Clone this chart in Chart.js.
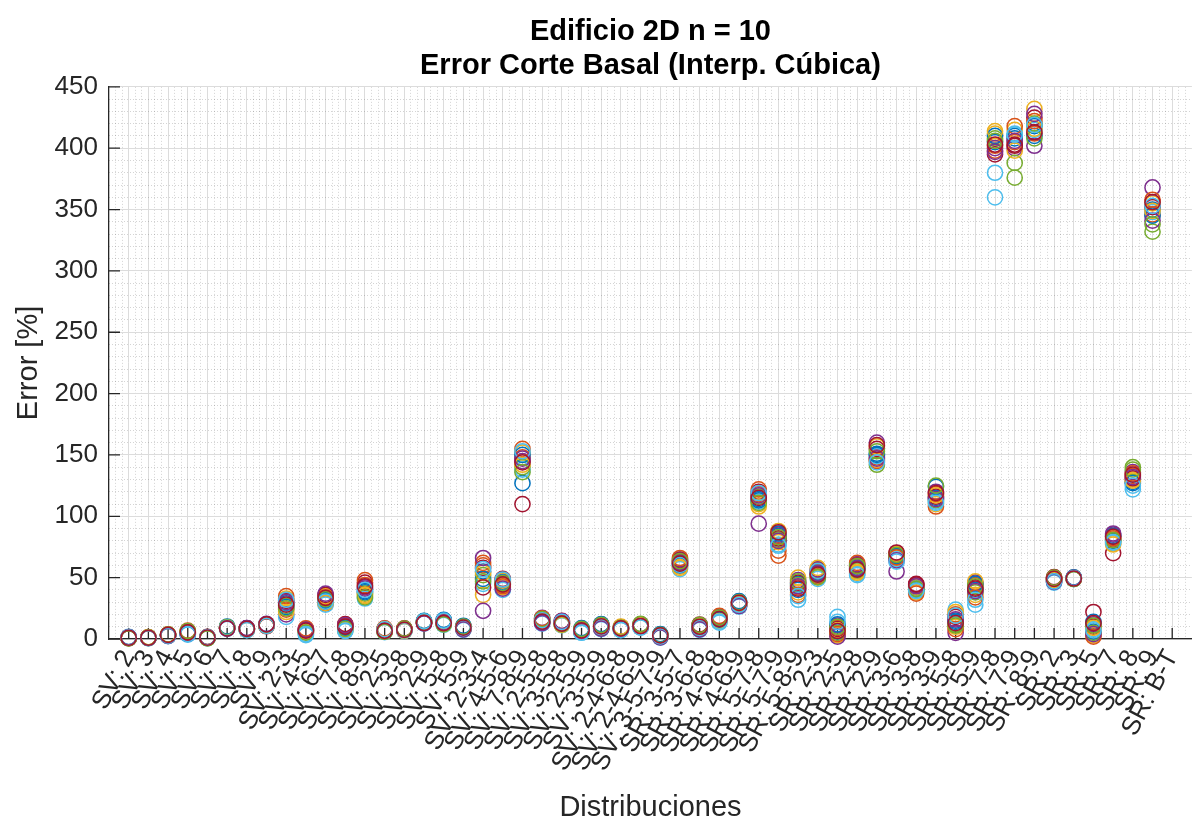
<!DOCTYPE html>
<html>
<head>
<meta charset="utf-8">
<title>Error Corte Basal</title>
<script src="https://cdn.jsdelivr.net/npm/chart.js@4.4.1/dist/chart.umd.min.js"></script>
<style>
html,body{margin:0;padding:0;background:#fff;}
#wrap{width:1201px;height:825px;}
</style>
</head>
<body>
<div id="wrap"><canvas id="errorChart" width="1201" height="825"></canvas></div>
<script>
// distribuciones de sensores (eje x)
const categories=["SV: 2","SV: 3","SV: 4","SV: 5","SV: 6","SV: 7","SV: 8","SV: 9",
"SV: 2-3","SV: 4-5","SV: 6-7","SV: 7-8","SV: 8-9","SV: 2-5","SV: 3-8","SV: 2-9","SV: 5-8","SV: 5-9",
"SV: 2-3-4","SV: 4-5-6","SV: 7-8-9","SV: 2-5-8","SV: 3-5-8","SV: 2-5-9","SV: 3-5-9",
"SV: 2-4-6-8","SV: 2-4-6-9","SV: 3-5-7-9",
"SR: 3-5-7","SR: 3-6-8","SR: 4-6-8","SR: 4-6-9","SR: 5-7-8","SR: 5-7-9","SR: 5-8-9",
"SR: 2-3","SR: 2-5","SR: 2-8","SR: 2-9","SR: 3-6","SR: 3-8","SR: 3-9","SR: 5-8","SR: 5-9",
"SR: 7-8","SR: 7-9","SR: 8-9","SR: 2","SR: 3","SR: 5","SR: 7","SR: 8","SR: 9","SR: B-T"];

// error [%] de cada simulacion, una entrada por distribucion
const sim1=[1.2,0.9,3.1,4.8,1.1,9.2,7.9,11.2,29,6.5,32,9.5,38,7.2,7.6,13.6,13.8,9.0,55,47,127,15,13,6.8,10,8.5,10.5,2.4,61,9.5,16.5,28.5,114,84,45,53,6,57,151,67,42,115,15,40,405,410,418,48,49.5,6,80,128,350,null];
const sim2=[0.8,1.2,2.6,5.6,0.7,8.6,8.4,10.6,24,7.8,29,11.8,44,8.1,8.2,14.2,14.6,9.8,60,44,148,16.5,14.2,7.9,11.2,9.2,11.4,3.1,63,11.2,17.8,29.6,118,68,42,55,9,59,148,69,43.5,118,20,44,398,405,412,50,49,10,83,133,346,null];
const sim3=[1.5,0.7,3.5,6.2,1.6,9.8,7.5,11.8,33,5.4,35,7.2,35,6.5,6.9,12.9,12.4,8.1,36,42,152,13.2,11.8,5.6,8.6,7.6,9.6,1.6,59,8.2,15.2,27.2,110,79,38,50,3,55,146,66,38,110,10,36,412,415,432,47,50,3,78,130,355,null];
const sim4=[0.6,1.4,2.9,4.1,0.9,8.9,8.8,10.9,20,8.2,30,10.4,41,7.8,7.9,13.9,15.2,10.4,23,48,145,17.2,13.6,8.5,11.8,9.8,12.0,3.6,65,10.6,18.4,30.4,94,85,48,57,11,61,160,55,44,120,5,46,400,400,402,49,49.2,12,85,136,368,null];
const sim5=[1.0,1.0,3.8,5.2,1.3,9.5,8.1,11.5,27,6.9,33,8.6,37,6.9,7.3,14.5,13.1,8.6,52,45,140,14.4,12.4,6.2,9.4,8.1,10.1,2.0,62,8.8,16.0,28.0,116,81,44,52,5,56,142,68,41,113,12,38,408,388,420,48.5,49.8,5,81,140,332,null];
const sim6=[1.8,0.6,2.4,3.6,0.5,8.3,7.2,12.1,18,3.2,28,6.4,33,5.6,6.4,12.5,11.6,7.5,45,40,138,12.5,11.2,5.1,8.1,7.2,9.2,1.2,57,7.4,13.4,26.4,112,77,32,49,18,53,149,65,39,112,24,28,380,412,415,46,48.8,8,79,122,348,null];
const sim7=[0.9,1.3,3.2,5.9,1.8,9.1,8.6,10.4,31,7.1,36,12.2,46,8.6,8.6,13.3,14.0,9.4,58,49,110,15.8,14.8,7.3,10.6,9.5,11.7,2.8,64,11.8,17.2,29.2,120,82,46,56,8,60,155,70,45,116,18,42,395,403,425,50.5,49.6,22,70,131,352,null];
const sim8=[1.3,1.1,2.8,4.5,1.0,10.2,7.8,11.0,26,5.9,31,9.0,39,7.5,7.1,14.8,15.6,10.8,49,46,150,13.8,12.9,8.9,12.1,8.8,10.8,3.9,60,9.9,15.6,30.8,113,86,40,54,12,58,150,67.5,40,124,14,45,410,408,410,47.5,50.2,14,84,127,345,null];
const sim9=[0.7,0.8,3.6,6.8,1.4,8.8,8.3,11.6,35,8.6,34,10.9,48,6.2,8.0,13.0,12.8,8.3,62,43,155,16.9,13.3,5.9,9.0,7.9,9.9,1.8,66,8.5,18.9,27.6,122,72,36,51,4,62,145,66.5,37,108,8,34,402,418,422,49.5,49.4,2,82,135,358,null];
const sim10=[1.1,1.5,3.0,5.0,0.8,9.4,7.6,10.8,22,6.2,29.5,7.8,36,8.3,6.7,14.0,14.3,9.6,54,47.5,142,14.8,11.5,7.6,10.9,10.1,11.1,2.6,58,10.3,14.6,28.8,108,88,50,58,7,54,157,69.5,42.5,117,22,47,414,398,416,48,49.1,9,77,129,349,null];
const sim11=[1.6,0.9,2.5,4.3,1.2,8.5,8.9,12.3,30,7.5,37,11.3,42,7.0,7.7,12.7,13.5,7.9,66,41,147,12.9,14.5,6.5,8.4,8.3,10.3,1.4,62.5,7.9,16.8,26.9,117,80,43,53.5,2,57.5,147,64,43,114,16,39,397,406,428,46.5,49.9,4,86,132,341,null];
const sim12=[0.5,1.2,3.4,6.5,0.6,9.7,8.0,11.3,25,5.1,32.5,8.2,34,5.9,8.4,13.8,11.9,10.1,47,45.5,136,16.2,12.1,8.2,11.5,9.0,12.3,3.3,63.5,11.5,17.5,30.1,111,83,47,50.5,10,59.5,153,68.5,40.5,125,11,43,406,376,408,50,48.9,11,80.5,138,338,null];
const sim13=[1.4,0.7,2.7,3.9,1.5,9.0,7.4,10.7,32,4.0,30.5,6.9,40,7.9,7.0,14.4,14.9,8.8,57,48.5,153,15.3,13.9,5.3,9.7,7.4,9.4,2.2,60.5,9.1,14.1,27.9,119,76,35,55.5,14,52,144,63,39.5,111,19,32,360,411,419,47,49.7,7,78.5,125,353,null];
const sim14=[1.0,1.0,3.3,5.4,1.1,8.7,8.2,11.9,28,6.8,33.5,10.1,43,6.7,7.5,13.2,13.0,9.2,42,44.5,144,14.1,12.6,7.0,10.3,8.6,10.6,2.9,61.5,10.0,16.2,29.4,115,87,41,52.5,6.5,56.5,158,70.5,44.5,119,13,41,403,402,413,49,49.3,13,83.5,134,356,null];

const yTicks=[0,50,100,150,200,250,300,350,400,450];
const titleLines=["Edificio 2D n = 10","Error Corte Basal (Interp. Cúbica)"];

const simulations=[sim1,sim2,sim3,sim4,sim5,sim6,sim7,sim8,sim9,sim10,sim11,sim12,sim13,sim14];
const matlabColors=['#0072BD','#D95319','#EDB120','#7E2F8E','#77AC30','#4DBEEE','#A2142F'];
const fontFamily="'Liberation Sans', Arial, Helvetica, sans-serif";
const axisColor='#262626';

const datasets=simulations.map((sim,i)=>({
    label:'Sim '+(i+1),
    data:sim.map((v,k)=>({x:k+1,y:v})),
    borderColor:matlabColors[i%matlabColors.length],
    backgroundColor:'rgba(0,0,0,0)',
    pointStyle:'circle',
    pointRadius:7.6,
    pointHoverRadius:7.6,
    pointBorderWidth:1.5,
    showLine:false,
    clip:false,
    order:simulations.length-i
}));

// marcas de eje hacia adentro, como en MATLAB
const innerTicks={
    id:'innerTicks',
    beforeDatasetsDraw(chart){
        const {ctx,chartArea}=chart;
        const xs=chart.scales.x, ys=chart.scales.y;
        ctx.save();
        ctx.strokeStyle=axisColor;
        ctx.lineWidth=1.3;
        ctx.beginPath();
        xs.ticks.forEach((t,i)=>{
            const px=xs.getPixelForTick(i);
            ctx.moveTo(px,chartArea.bottom);
            ctx.lineTo(px,chartArea.bottom-11);
        });
        ys.ticks.forEach((t,i)=>{
            const py=ys.getPixelForTick(i);
            ctx.moveTo(chartArea.left,py);
            ctx.lineTo(chartArea.left+11,py);
        });
        ctx.stroke();
        ctx.restore();
    }
};

// centrar el titulo sobre el area de ejes
const centerTitle={
    id:'centerTitle',
    afterLayout(chart){
        const t=chart.titleBlock;
        if(t){ t.left=chart.chartArea.left; t.right=chart.chartArea.right; t.width=t.right-t.left; }
    }
};

new Chart(document.getElementById('errorChart').getContext('2d'),{
    type:'scatter',
    data:{datasets:datasets},
    options:{
        responsive:false,
        animation:false,
        devicePixelRatio:1,
        layout:{padding:0},
        plugins:{
            legend:{display:false},
            tooltip:{enabled:false},
            title:{
                display:true,
                text:titleLines,
                color:'#000',
                font:{family:fontFamily,size:29,weight:'bold',lineHeight:1.17},
                padding:{top:15,bottom:4}
            }
        },
        scales:{
            x:{
                type:'linear',
                position:'bottom',
                min:0,max:categories.length+1,
                afterBuildTicks(s){ s.ticks=categories.map((c,i)=>({value:i+1})); },
                afterFit(s){ s.height=186; s.paddingLeft=0; s.paddingRight=0; },
                ticks:{
                    autoSkip:false,minRotation:62,maxRotation:62,padding:6,
                    color:axisColor,font:{family:fontFamily,size:26},
                    callback:(v,i)=>categories[i]
                },
                grid:{color:'#dcdcdc',lineWidth:1,drawTicks:false},
                border:{display:true,color:axisColor,width:1.3},
                title:{display:true,text:'Distribuciones',color:axisColor,font:{family:fontFamily,size:29},padding:{top:0,bottom:0}}
            },
            xMinor:{
                type:'linear',
                position:'bottom',
                min:0,max:categories.length+1,
                afterBuildTicks(s){ const t=[]; for(let m=0;m<=(categories.length+1)*3;m++){ if(m%3) t.push({value:m/3}); } s.ticks=t; },
                afterFit(s){ s.height=0; s.paddingLeft=0; s.paddingRight=0; },
                ticks:{display:false},
                grid:{color:'rgba(38,38,38,0.2)',lineWidth:1,drawTicks:false},
                border:{display:false,dash:[1,2]}
            },
            y:{
                type:'linear',
                position:'left',
                min:0,max:450,
                afterBuildTicks(s){ s.ticks=yTicks.map(v=>({value:v})); },
                afterFit(s){ s.width=109; },
                ticks:{padding:11,color:axisColor,font:{family:fontFamily,size:26}},
                grid:{color:'#dcdcdc',lineWidth:1,drawTicks:false},
                border:{display:true,color:axisColor,width:1.3},
                title:{display:true,text:'Error [%]',color:axisColor,font:{family:fontFamily,size:29},padding:{top:12,bottom:0}}
            },
            yMinor:{
                type:'linear',
                position:'left',
                min:0,max:450,
                afterBuildTicks(s){ const t=[]; for(let v=0;v<=450;v+=10){ if(v%50) t.push({value:v}); } s.ticks=t; },
                afterFit(s){ s.width=0; },
                ticks:{display:false},
                grid:{color:'rgba(38,38,38,0.2)',lineWidth:1,drawTicks:false},
                border:{display:false,dash:[1,2]}
            }
        }
    },
    plugins:[innerTicks,centerTitle]
});
</script>
</body>
</html>
